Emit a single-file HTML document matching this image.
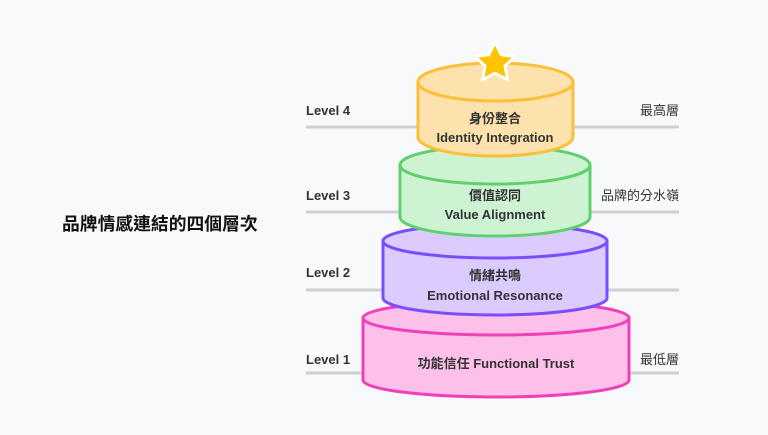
<!DOCTYPE html>
<html><head><meta charset="utf-8"><style>
html,body{margin:0;padding:0;background:#f8f9fa;}
svg text{font-family:"Liberation Sans","Noto Sans CJK TC",sans-serif;}
</style></head><body>
<svg width="768" height="430" viewBox="0 0 768 430" xmlns="http://www.w3.org/2000/svg">
<rect width="768" height="430" fill="#f8f9fa"/>
<g stroke="#cfcfcf" stroke-width="3">
<line x1="306" y1="127" x2="679" y2="127"/>
<line x1="306" y1="212" x2="679" y2="212"/>
<line x1="306" y1="290" x2="679" y2="290"/>
<line x1="306" y1="373" x2="679" y2="373"/>
</g>
<g font-size="13" font-weight="bold" fill="#333">
<text x="306" y="115">Level 4</text>
<text x="306" y="200">Level 3</text>
<text x="306" y="277">Level 2</text>
<text x="306" y="364">Level 1</text>
</g>
<g font-size="13" fill="#333" text-anchor="end">
<text x="679" y="115">最高層</text>
<text x="679" y="200">品牌的分水嶺</text>
<text x="679" y="364">最低層</text>
</g>
<text x="62" y="230" font-size="17.8" font-weight="bold" fill="#111">品牌情感連結的四個層次</text>
<g stroke="#f03fb8" stroke-width="3" fill="#fdc0e8">
<path d="M363 318 L363 380 A133 17 0 0 0 629 380 L629 318 Z"/>
<ellipse cx="496" cy="318" rx="133" ry="17"/>
</g>
<g stroke="#7b4dff" stroke-width="3" fill="#dccbff">
<path d="M383 241 L383 298 A112 17 0 0 0 607 298 L607 241 Z"/>
<ellipse cx="495" cy="241" rx="112" ry="17"/>
</g>
<g stroke="#5fd06c" stroke-width="3" fill="#cdf3d3">
<path d="M400 165 L400 217 A95 19 0 0 0 590 217 L590 165 Z"/>
<ellipse cx="495" cy="165" rx="95" ry="19"/>
</g>
<g stroke="#fbbf3a" stroke-width="3" fill="#fee2ad">
<path d="M418 82 L418 137 A77.5 19 0 0 0 573 137 L573 82 Z"/>
<ellipse cx="495.5" cy="82" rx="77.5" ry="19"/>
</g>
<polygon points="495,42 501.2,54.8 515.2,56.5 504.9,66 507.6,79.9 495,73.2 482.4,79.9 485.1,66 474.8,56.5 488.8,54.8" fill="#ffc400" stroke="#fff" stroke-width="3" stroke-linejoin="round"/>
<g font-size="13" font-weight="bold" fill="#333" text-anchor="middle">
<text x="495" y="123">身份整合</text>
<text x="495" y="142">Identity Integration</text>
<text x="495" y="200">價值認同</text>
<text x="495" y="219">Value Alignment</text>
<text x="495" y="280">情緒共鳴</text>
<text x="495" y="300">Emotional Resonance</text>
<text x="496" y="368">功能信任 Functional Trust</text>
</g>
</svg>
</body></html>
